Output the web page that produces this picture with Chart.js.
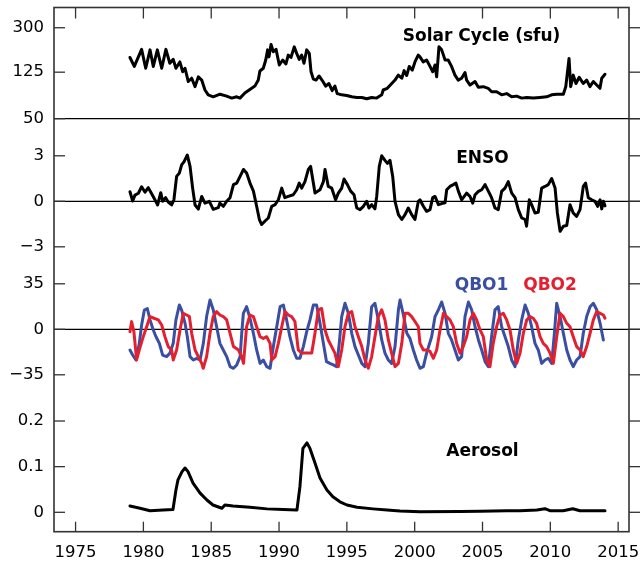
<!DOCTYPE html>
<html>
<head>
<meta charset="utf-8">
<script src="https://cdn.jsdelivr.net/npm/chart.js@4/dist/chart.umd.min.js"></script>
<style>
  html, body { margin: 0; padding: 0; background: #fff; }
</style>
</head>
<body>
<canvas id="chart" width="640" height="565"></canvas>
<script>
// ---- data (decimal years) ----
const yearTicks = [1975, 1980, 1985, 1990, 1995, 2000, 2005, 2010, 2015];

const solarYears = [1979.01,1979.33,1979.87,1980.17,1980.49,1980.73,1981.03,1981.35,1981.66,1981.95,1982.20,1982.40,1982.69,1982.90,1983.07,1983.31,1983.56,1983.81,1984.05,1984.30,1984.54,1984.78,1985.15,1985.65,1986.14,1986.51,1986.88,1987.12,1987.48,1987.85,1988.22,1988.47,1988.59,1988.84,1989.02,1989.16,1989.26,1989.41,1989.58,1989.78,1990.02,1990.27,1990.51,1990.68,1990.88,1991.12,1991.30,1991.49,1991.67,1991.84,1992.04,1992.23,1992.36,1992.53,1992.73,1992.95,1993.19,1993.44,1993.68,1993.92,1994.12,1994.29,1994.62,1994.99,1995.36,1995.73,1996.10,1996.46,1996.83,1997.20,1997.57,1997.68,1997.98,1998.31,1998.55,1998.79,1999.05,1999.22,1999.41,1999.60,1999.82,2000.02,2000.26,2000.39,2000.63,2000.88,2001.13,2001.33,2001.50,2001.62,2001.79,2001.99,2002.24,2002.47,2002.72,2002.97,2003.21,2003.46,2003.71,2003.83,2004.08,2004.45,2004.69,2005.06,2005.42,2005.67,2006.04,2006.41,2006.78,2007.15,2007.52,2007.89,2008.26,2008.74,2009.23,2009.73,2010.10,2010.47,2010.96,2011.14,2011.38,2011.50,2011.69,2011.89,2012.13,2012.43,2012.68,2012.92,2013.17,2013.42,2013.66,2013.79,2014.03];
const solarFlux = [167,140,196,135,194,140,194,135,196,149,161,135,153,126,135,104,111,94,114,107,88,80,77,81,78,75,77,75,83,89,95,107,128,135,159,194,169,216,187,196,144,159,147,175,167,206,181,161,175,149,194,181,126,109,107,116,106,95,100,87,95,82,80,79,77,76,76,74,76,75,80,88,91,100,107,118,111,129,117,140,130,153,175,169,153,159,140,126,144,114,206,194,159,159,140,118,107,111,124,107,97,104,93,94,91,85,85,80,82,77,78,75,76,75,76,77,80,81,81,94,164,94,118,100,113,100,107,94,104,97,91,111,120];

const ensoYears = [1979.01,1979.21,1979.38,1979.63,1979.87,1980.12,1980.36,1980.61,1980.86,1981.05,1981.28,1981.42,1981.64,1981.83,1982.08,1982.25,1982.45,1982.65,1982.82,1982.99,1983.24,1983.44,1983.63,1983.81,1984.05,1984.30,1984.54,1984.86,1985.15,1985.52,1985.64,1985.90,1986.14,1986.39,1986.64,1986.88,1987.13,1987.38,1987.61,1987.86,1988.11,1988.35,1988.55,1988.72,1988.97,1989.21,1989.46,1989.71,1989.95,1990.20,1990.43,1990.68,1991.05,1991.30,1991.49,1991.67,1991.91,1992.16,1992.33,1992.53,1992.65,1993.02,1993.27,1993.39,1993.63,1993.88,1994.17,1994.37,1994.62,1994.79,1995.04,1995.28,1995.53,1995.73,1995.97,1996.22,1996.46,1996.63,1996.83,1997.07,1997.20,1997.39,1997.57,1997.81,1997.99,1998.18,1998.38,1998.55,1998.80,1999.05,1999.29,1999.53,1999.78,2000.02,2000.27,2000.39,2000.64,2000.88,2001.13,2001.33,2001.50,2001.75,2001.99,2002.24,2002.36,2002.60,2002.85,2003.04,2003.22,2003.46,2003.83,2004.08,2004.28,2004.45,2004.70,2004.94,2005.19,2005.43,2005.67,2005.92,2006.16,2006.41,2006.66,2006.90,2007.15,2007.40,2007.64,2007.89,2008.14,2008.25,2008.45,2008.62,2008.87,2009.11,2009.36,2009.61,2009.85,2010.10,2010.35,2010.52,2010.72,2010.96,2011.21,2011.45,2011.69,2011.94,2012.19,2012.43,2012.60,2012.80,2013.05,2013.29,2013.49,2013.67,2013.79,2013.91,2014.03];
const ensoIndex = [0.63,0.02,0.41,0.53,0.96,0.6,0.9,0.5,0.09,-0.24,0.57,0,0.24,-0.05,-0.24,0.1,1.64,1.86,2.4,2.6,3.05,2.3,0.87,-0.24,-0.51,0.32,-0.12,0,-0.53,-0.42,-0.12,-0.33,0,0.24,1.1,1.2,1.64,2.1,1.86,1.2,0.67,-0.33,-1.2,-1.53,-1.3,-1.1,-0.33,-0.22,0.1,0.87,0.24,0.32,0.43,0.76,1.2,0.87,1.3,2.1,2.3,1.2,0.54,0.76,1.3,2.1,0.98,0.87,0.1,0.54,0.87,1.47,1.1,0.67,0.43,-0.44,-0.55,-0.33,0,-0.44,-0.22,-0.5,0.32,2.3,3.0,2.7,2.5,2.7,1.64,0,-0.88,-1.2,-0.88,-0.44,-0.88,-1.2,0,0.1,-0.33,-0.66,-0.55,0.24,0.32,-0.22,-0.15,-0.1,0.76,0.98,1.1,1.2,0.67,0.1,0.54,0.32,-0.12,0.43,0.65,0.76,1.1,0.67,0.24,-0.44,-0.55,0.65,0.87,1.3,0.54,0.24,-0.55,-1.1,-1.2,-1.64,0.1,-0.22,-0.77,-0.72,0.87,0.98,1.1,1.5,0.87,-0.77,-1.98,-1.64,-1.6,-0.22,-0.77,-0.99,-0.55,0.98,1.2,0.24,0.1,0,-0.33,0.1,-0.5,0,-0.3];

const qbo1Years = [1979.01,1979.21,1979.45,1979.70,1979.87,1980.07,1980.29,1980.49,1980.73,1980.93,1981.18,1981.42,1981.71,1981.96,1982.20,1982.40,1982.65,1982.82,1983.07,1983.24,1983.44,1983.68,1983.93,1984.18,1984.42,1984.66,1984.91,1985.15,1985.40,1985.64,1985.89,1986.14,1986.39,1986.64,1986.88,1987.13,1987.25,1987.37,1987.61,1987.86,1988.11,1988.35,1988.60,1988.84,1989.09,1989.34,1989.58,1989.83,1990.08,1990.32,1990.56,1990.80,1991.05,1991.30,1991.54,1991.79,1992.04,1992.28,1992.53,1992.77,1993.02,1993.27,1993.50,1993.75,1994.00,1994.24,1994.44,1994.62,1994.86,1995.11,1995.36,1995.60,1995.85,1996.10,1996.34,1996.58,1996.83,1997.07,1997.32,1997.57,1997.81,1998.06,1998.30,1998.55,1998.80,1998.92,1999.17,1999.42,1999.65,1999.90,2000.14,2000.39,2000.64,2000.88,2001.25,2001.50,2001.75,2001.99,2002.24,2002.48,2002.72,2002.97,2003.22,2003.46,2003.71,2003.96,2004.20,2004.45,2004.70,2004.94,2005.19,2005.43,2005.67,2005.92,2006.16,2006.41,2006.66,2006.90,2007.15,2007.40,2007.64,2007.89,2008.14,2008.38,2008.62,2008.87,2009.11,2009.36,2009.61,2009.85,2010.10,2010.30,2010.47,2010.72,2010.96,2011.21,2011.45,2011.69,2011.94,2012.19,2012.43,2012.68,2012.93,2013.17,2013.42,2013.67,2013.91];
const qbo1 = [-15.9,-19.8,-23.6,-10.8,3.3,14.8,16,7.2,-0.5,-5.7,-10.8,-19.8,-21,-18.3,-10.8,7.2,18.7,14.8,4.6,-5.7,-21,-23.6,-22.3,-23.6,-10.8,9.8,22.5,15,2,-10.8,-15.9,-21,-28.7,-30,-27.4,-21,-3.1,12.3,17.4,8.5,-3.1,-15.9,-26.2,-23.6,-28.7,-30,-13.3,2,17.4,18.7,7.2,-5.7,-15.9,-22.3,-22.3,-13.3,-1.8,7.2,18.7,18.7,4.6,-10.8,-24.9,-26.2,-27.4,-28.7,-10.8,9.8,20,12.3,-3.1,-13.3,-19.8,-26.2,-28.7,-10.8,17.4,20,7.2,-8.2,-18.3,-23.6,-26.2,-13.3,15,22.5,11,-3.1,-7,-15.9,-23.6,-30,-28.7,-18.3,-5.7,9.8,15,21,12.3,-3.1,-8.2,-15.9,-23.6,-21,9.8,21,15,2,-8.2,-15.9,-24.9,-28.7,-5.7,15,17.4,2,-5.7,-13.3,-23.6,-28.7,-8.2,7.2,18.7,12.3,2,-10.8,-15.9,-26.2,-23.6,-22.3,-26.2,-3.1,20,9.8,-3.1,-15.9,-23.6,-28.7,-23.6,-21,-3.1,9.8,17.4,20,15,4.6,-8.2];

const qbo2Years = [1979.01,1979.13,1979.30,1979.50,1979.70,1979.95,1980.24,1980.49,1980.78,1981.10,1981.35,1981.59,1981.83,1982.08,1982.20,1982.45,1982.70,1982.94,1983.19,1983.39,1983.56,1983.81,1984.05,1984.30,1984.41,1984.66,1984.91,1985.15,1985.40,1985.64,1985.89,1986.14,1986.39,1986.64,1987.01,1987.25,1987.38,1987.61,1987.86,1988.11,1988.35,1988.60,1988.84,1989.09,1989.34,1989.46,1989.71,1989.95,1990.20,1990.44,1990.68,1990.93,1991.17,1991.42,1991.67,1992.04,1992.41,1992.65,1992.90,1993.14,1993.39,1993.63,1993.88,1994.12,1994.37,1994.62,1994.86,1995.11,1995.36,1995.60,1995.85,1996.10,1996.34,1996.58,1996.83,1997.07,1997.32,1997.57,1997.81,1998.06,1998.30,1998.55,1998.80,1999.05,1999.29,1999.53,1999.78,2000.02,2000.27,2000.39,2000.64,2000.88,2001.13,2001.38,2001.62,2001.87,2002.12,2002.35,2002.60,2002.85,2003.09,2003.34,2003.58,2003.83,2004.08,2004.32,2004.57,2004.82,2005.06,2005.31,2005.55,2005.79,2006.04,2006.29,2006.53,2006.78,2007.03,2007.27,2007.52,2007.77,2008.01,2008.26,2008.50,2008.74,2008.99,2009.24,2009.48,2009.73,2009.98,2010.22,2010.47,2010.72,2010.96,2011.21,2011.45,2011.69,2011.94,2012.19,2012.43,2012.68,2012.93,2013.17,2013.42,2013.67,2013.91,2014.03];
const qbo2 = [-1.8,5.9,-1.8,-23.6,-15.9,-7,2,9.8,8.5,7.2,3.3,-5.7,-13.3,-15.9,-23.6,-15.9,-0.5,12.3,11,9.8,-3.1,-15.9,-21,-26.2,-30,-21,-3.1,9.8,13.6,11,9.8,7.2,-3.1,-13.3,-15.9,-21,-26.2,2,11,9.8,2,-5.7,-7,-5.7,-10.8,-23.6,-21,-10.8,2,13.6,11,9.8,6,-15.9,-18.3,-18.3,-18.3,-3.1,15,16,-0.5,-8.2,-13.3,-18.3,-28.7,-15.9,2,12.3,13.6,2,-5.7,-13.3,-23.6,-30,-21,-5.7,9.8,15,7.2,-8.2,-18.3,-28.7,-26.2,-10.8,12.3,12.3,9.8,6,2,-10.8,-15.9,-15.9,-17,-22.3,-15.9,-0.5,12.3,9.8,7.2,2,-10.8,-18.3,-13.3,-5.7,7.2,12.3,7.2,-0.5,-5.7,-23.6,-28.7,-10.8,2,11,12.3,7.2,-0.5,-15.9,-26.2,-18.3,-3.1,7.2,9.8,8.5,4.6,-5.7,-10.8,-13.3,-18.3,-26.2,-5.7,12.3,9.8,4.6,2,-5.7,-13.3,-15.9,-21,-13.3,-3.1,7.2,13.6,12.3,11,8.5];

const aerosolYears = [1979.01,1979.75,1980.49,1981.45,1982.18,1982.40,1982.55,1982.85,1983.07,1983.29,1983.66,1984.18,1984.68,1985.13,1985.79,1986.01,1986.61,1987.85,1989.11,1990.30,1991.32,1991.54,1991.76,1992.06,1992.28,1992.65,1993.02,1993.53,1993.97,1994.49,1995.01,1995.75,1996.92,1997.96,1998.92,2000.39,2003.35,2004.82,2006.80,2007.76,2009.01,2009.60,2009.97,2010.94,2011.66,2012.18,2014.03];
const aerosolDepth = [0.0139,0.0088,0.0035,0.0049,0.006,0.049,0.071,0.089,0.097,0.089,0.064,0.042,0.027,0.016,0.0088,0.016,0.014,0.011,0.0075,0.006,0.0049,0.056,0.14,0.152,0.14,0.108,0.075,0.049,0.034,0.023,0.016,0.011,0.0075,0.005,0.0027,0.0013,0.0018,0.0025,0.0035,0.0035,0.0049,0.0079,0.0035,0.0035,0.0079,0.0035,0.0035];

const solarTicks = [50, 125, 300];
const ensoTicks = [-3, 0, 3];
const qboTicks = [-35, 0, 35];
const aerosolTicks = [0, 0.1, 0.2];

// ---- styling ----
const FONT = 'DejaVu Sans';
const BLUE = '#3B4FA2';
const RED = '#E3202F';
const FRAME = '#333333';

Chart.defaults.font.family = FONT;
Chart.defaults.color = '#000';

const pairs = (xs, ys) => xs.map((x, i) => ({ x, y: ys[i] }));
const fmt = v => (v < 0 ? '\u2212' + Math.abs(v) : String(v));

function panelAxis(extra, ticks) {
  return Object.assign({
    position: 'left',
    stack: 'panels',
    grid: { display: false, drawTicks: false },
    border: { display: false },
    ticks: { font: { size: 16.5 }, color: '#000', padding: 10, callback: v => fmt(v) },
    afterBuildTicks: s => { s.ticks = ticks.map(v => ({ value: v })); },
    afterFit: s => { s.width = 54; s.paddingTop = 0; s.paddingBottom = 0; }
  }, extra);
}

// frame, tick marks, reference lines and panel titles
const panelDecor = {
  id: 'panelDecor',
  beforeDatasetsDraw(chart) {
    const { ctx, chartArea: a, scales } = chart;
    const line = (x1, y1, x2, y2) => { ctx.beginPath(); ctx.moveTo(x1, y1); ctx.lineTo(x2, y2); ctx.stroke(); };
    ctx.save();
    // horizontal reference lines
    ctx.strokeStyle = '#000';
    ctx.lineWidth = 1.3;
    [['ySolar', 50], ['yEnso', 0], ['yQbo', 0]].forEach(([id, v]) => {
      const y = scales[id].getPixelForValue(v);
      line(a.left, y, chart.width, y);
    });
    // frame
    ctx.strokeStyle = FRAME;
    ctx.lineWidth = 1.6;
    ctx.strokeRect(a.left, a.top, a.right - a.left, a.bottom - a.top);
    // y tick marks: inward on the left, outward on the right
    ctx.lineWidth = 1.3;
    [['ySolar', solarTicks], ['yEnso', ensoTicks], ['yQbo', qboTicks], ['yAero', aerosolTicks]].forEach(([id, t]) => {
      t.forEach(v => {
        const y = scales[id].getPixelForValue(v);
        line(a.left, y, a.left + 11, y);
        line(a.right, y, a.right + 11, y);
      });
    });
    // x tick marks, top and bottom, inward
    yearTicks.forEach(v => {
      const x = scales.x.getPixelForValue(v);
      line(x, a.top, x, a.top + 11);
      line(x, a.bottom - 10, x, a.bottom);
    });
    ctx.restore();
  },
  afterDatasetsDraw(chart) {
    const { ctx, scales } = chart;
    ctx.save();
    ctx.font = 'bold 17px "' + FONT + '"';
    ctx.textAlign = 'center';
    ctx.textBaseline = 'alphabetic';
    const put = (text, color, yr, id, v) => {
      ctx.fillStyle = color;
      ctx.fillText(text, scales.x.getPixelForValue(yr), scales[id].getPixelForValue(v));
    };
    put('Solar Cycle (sfu)', '#000', 2004.93, 'ySolar', 232);
    put('ENSO', '#000', 2005.0, 'yEnso', 2.54);
    put('QBO1', BLUE, 2004.93, 'yQbo', 30.2);
    put('QBO2', RED, 2009.98, 'yQbo', 30.2);
    put('Aerosol', '#000', 2005.0, 'yAero', 0.124);
    ctx.restore();
  }
};

const lineStyle = { borderWidth: 3, pointRadius: 0, tension: 0, borderJoinStyle: 'round', borderCapStyle: 'round', fill: false };

new Chart(document.getElementById('chart'), {
  type: 'line',
  data: {
    datasets: [
      Object.assign({ label: 'Solar Cycle (sfu)', data: pairs(solarYears, solarFlux), borderColor: '#000', yAxisID: 'ySolar' }, lineStyle),
      Object.assign({ label: 'ENSO', data: pairs(ensoYears, ensoIndex), borderColor: '#000', yAxisID: 'yEnso' }, lineStyle),
      Object.assign({ label: 'QBO2', data: pairs(qbo2Years, qbo2), borderColor: RED, yAxisID: 'yQbo', order: 0 }, lineStyle),
      Object.assign({ label: 'QBO1', data: pairs(qbo1Years, qbo1), borderColor: BLUE, yAxisID: 'yQbo', order: 1 }, lineStyle),
      Object.assign({ label: 'Aerosol', data: pairs(aerosolYears, aerosolDepth), borderColor: '#000', yAxisID: 'yAero' }, lineStyle)
    ]
  },
  options: {
    responsive: false,
    animation: false,
    layout: { padding: { top: 7.5, right: 11, bottom: 0, left: 0 } },
    plugins: { legend: { display: false }, tooltip: { enabled: false } },
    scales: {
      x: {
        type: 'linear',
        min: 1973.41,
        max: 2015.8,
        grid: { display: false, drawTicks: false },
        border: { display: false },
        ticks: { font: { size: 16.5 }, color: '#000', padding: 11, maxRotation: 0, autoSkip: false, callback: v => String(v) },
        afterBuildTicks: s => { s.ticks = yearTicks.map(v => ({ value: v })); },
        afterFit: s => { s.height = 33.3; s.paddingLeft = 0; s.paddingRight = 0; }
      },
      ySolar: panelAxis({ type: 'logarithmic', min: 50, max: 446.9, stackWeight: 111.2, weight: 4 }, solarTicks),
      yEnso: panelAxis({ type: 'linear', min: -4.199, max: 5.445, stackWeight: 146.3, weight: 3 }, ensoTicks),
      yQbo: panelAxis({ type: 'linear', min: -52.85, max: 49.46, stackWeight: 133, weight: 2 }, qboTicks),
      yAero: panelAxis({ type: 'linear', min: -0.0425, max: 0.25038, stackWeight: 133.7, weight: 1 }, aerosolTicks)
    }
  },
  plugins: [panelDecor]
});
</script>
</body>
</html>
